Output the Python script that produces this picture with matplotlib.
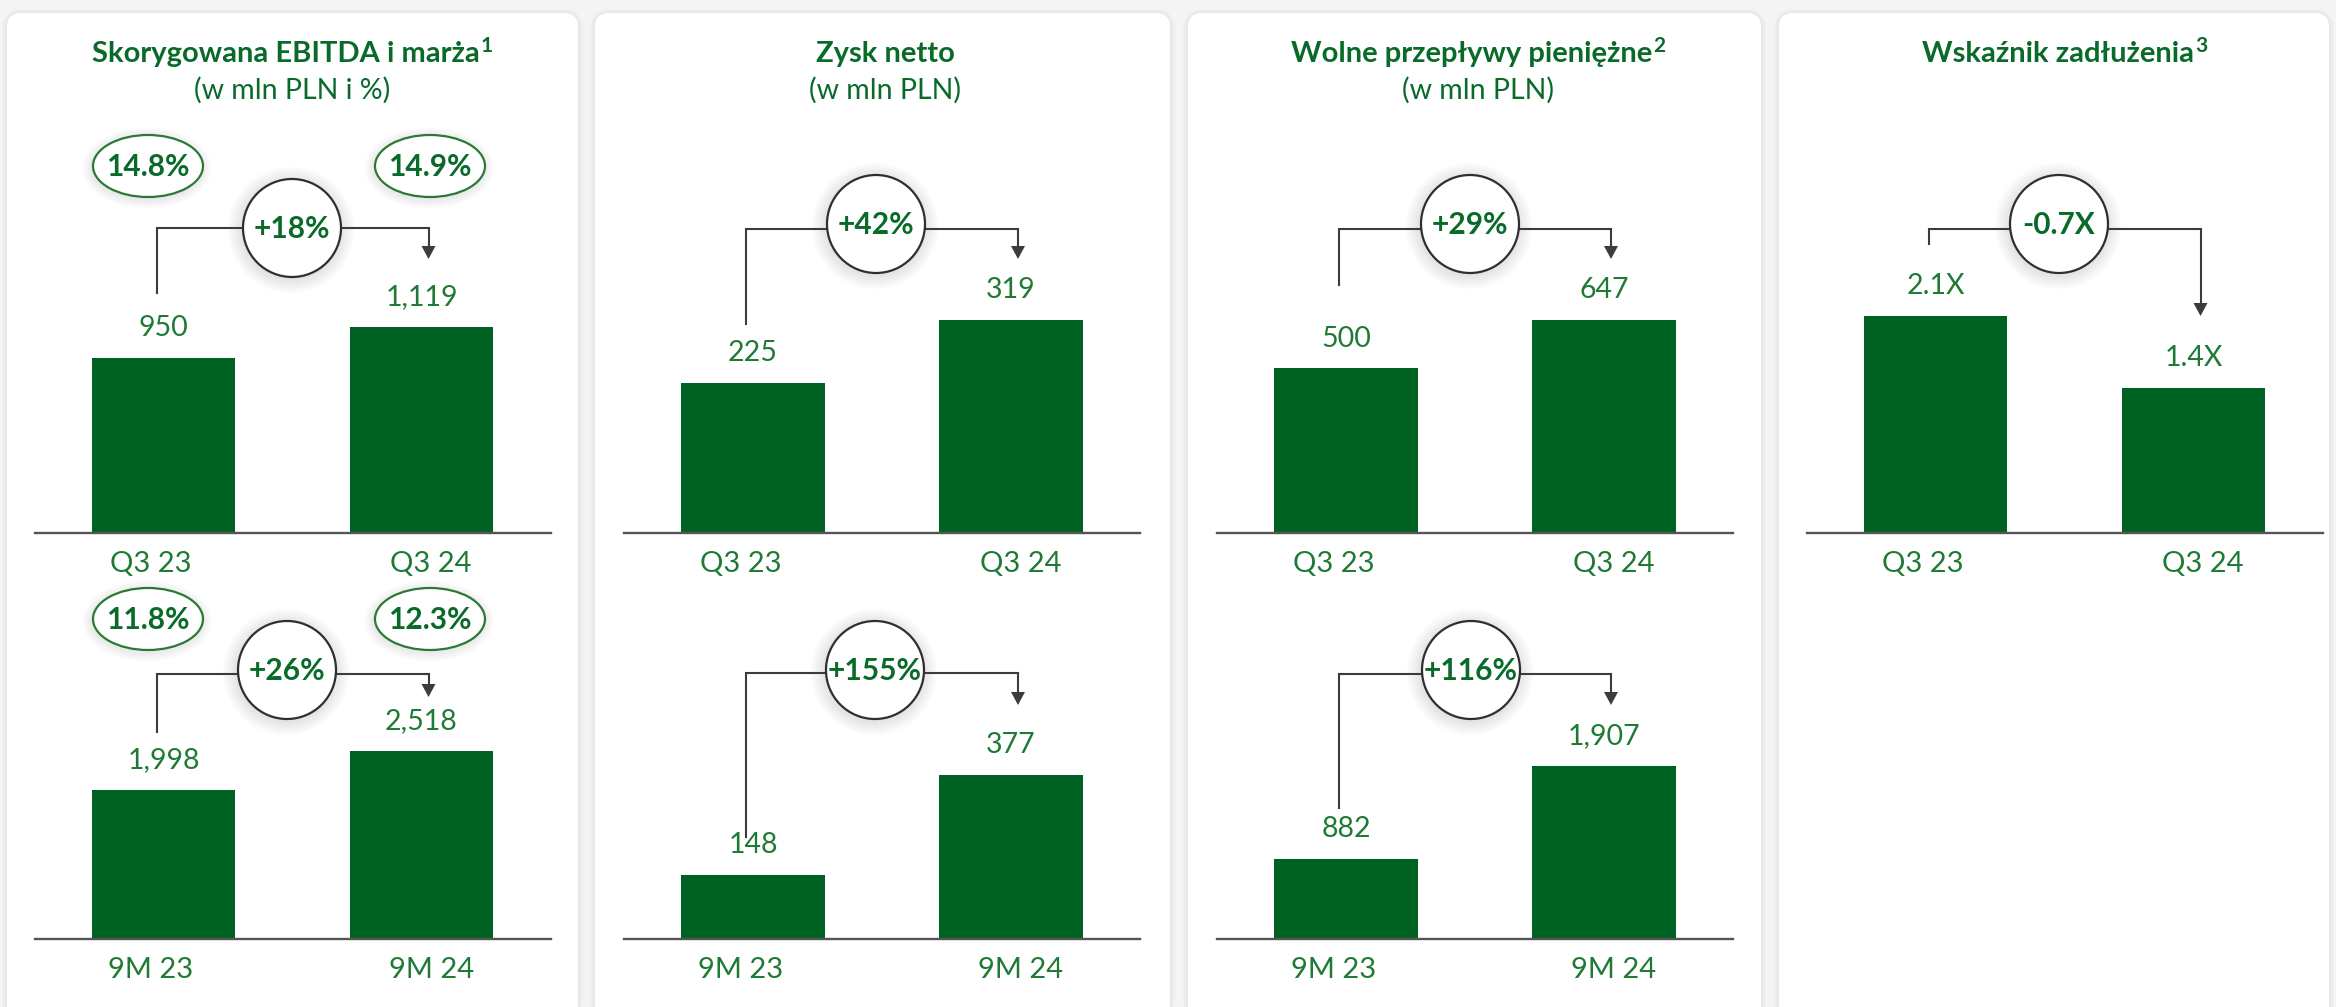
import matplotlib
matplotlib.use("Agg")
import matplotlib.pyplot as plt
from matplotlib.patches import FancyBboxPatch, Circle, Ellipse, Polygon

# ---------------------------------------------------------------- data
titles = ["Skorygowana EBITDA i marża", "Zysk netto",
          "Wolne przepływy pieniężne", "Wskaźnik zadłużenia"]
title_notes = ["1", "", "2", "3"]
subtitles = ["(w mln PLN i %)", "(w mln PLN)", "(w mln PLN)", ""]

quarter_labels = ["Q3 23", "Q3 24"]
ytd_labels = ["9M 23", "9M 24"]

ebitda_q3 = [950, 1119]
ebitda_9m = [1998, 2518]
margin_q3 = ["14.8%", "14.9%"]
margin_9m = ["11.8%", "12.3%"]

net_profit_q3 = [225, 319]
net_profit_9m = [148, 377]

free_cash_flow_q3 = [500, 647]
free_cash_flow_9m = [882, 1907]

leverage_q3 = [2.1, 1.4]

change_labels = {
    "ebitda_q3": "+18%", "ebitda_9m": "+26%",
    "net_q3": "+42%", "net_9m": "+155%",
    "fcf_q3": "+29%", "fcf_9m": "+116%",
    "lev_q3": "-0.7X",
}

# ---------------------------------------------------------------- style
W, H, DPI = 2336, 1007, 100
FONT = ["Lato", "DejaVu Sans"]
plt.rcParams["font.family"] = FONT

BG = "#f4f4f4"
BAR = "#006222"
TITLE_GREEN = "#0a6a2a"
TEXT_GREEN = "#1f7a35"
LINE_GRAY = "#3c3c3c"
BASE_GRAY = "#555555"

fig = plt.figure(figsize=(W / DPI, H / DPI), dpi=DPI, facecolor=BG)
renderer = fig.canvas.get_renderer()

# full-figure canvas in pixel units (y downwards) for cards and annotations
canvas = fig.add_axes([0, 0, 1, 1], zorder=0)
canvas.set_xlim(0, W)
canvas.set_ylim(H, 0)
canvas.axis("off")
canvas.set_facecolor(BG)

# cards with a soft shadow
cards = [(7, 578), (595, 1170), (1188, 1761), (1779, 2329)]
for x0, x1 in cards:
    for k in range(7, 0, -1):
        canvas.add_patch(FancyBboxPatch(
            (x0 - k * 0.8, 13 - k * 0.6), x1 - x0 + k * 1.6, 1010,
            boxstyle="round,pad=0,rounding_size=%d" % (14 + k),
            facecolor="#000000", alpha=0.007, edgecolor="none", zorder=1))
    canvas.add_patch(FancyBboxPatch(
        (x0, 13), x1 - x0, 1010, boxstyle="round,pad=0,rounding_size=14",
        facecolor="white", edgecolor="none", zorder=2))

# titles (with footnote markers) and units
title_x = [292, 885, 1478, 2064]
TITLE_PT, NOTE_PT = 21, 15
for tx, t, note, s in zip(title_x, titles, title_notes, subtitles):
    note_w = 0
    if note:
        probe = canvas.text(0, 0, note, fontsize=NOTE_PT, fontweight="bold")
        note_w = probe.get_window_extent(renderer).width
        probe.remove()
    main = canvas.text(tx - note_w / 2, 62, t, ha="center", va="baseline",
                       fontsize=TITLE_PT, fontweight="bold", color=TITLE_GREEN,
                       zorder=5)
    if note:
        bb = main.get_window_extent(renderer)
        right = canvas.transData.inverted().transform((bb.x1, 0))[0]
        canvas.text(right + 1, 52, note, ha="left", va="baseline",
                    fontsize=NOTE_PT, fontweight="bold", color=TITLE_GREEN,
                    zorder=5)
    if s:
        canvas.text(tx, 90, s, ha="center", va="center", fontsize=20.5,
                    color=TITLE_GREEN, zorder=5)

# ---------------------------------------------------------------- charts
AX_W, AX_H = 516, 233
BAR_W = 0.555

charts = [
    # left px, baseline px, values, categories, fmt, y-limit, change key,
    # bracket y, left leg end, arrow tip, circle centre, margin pills
    dict(left=34.5, base=533, vals=ebitda_q3, cats=quarter_labels, fmt="{:,.0f}",
         ytop=1266, key="ebitda_q3", by=228, leg=293, tip=259, cc=(292, 228),
         pills=margin_q3, pill_y=166),
    dict(left=34.5, base=939, vals=ebitda_9m, cats=ytd_labels, fmt="{:,.0f}",
         ytop=3119, key="ebitda_9m", by=674, leg=732, tip=697, cc=(287, 670),
         pills=margin_9m, pill_y=619),
    dict(left=624, base=533, vals=net_profit_q3, cats=quarter_labels, fmt="{:,.0f}",
         ytop=349, key="net_q3", by=229, leg=324, tip=259, cc=(876, 224)),
    dict(left=624, base=939, vals=net_profit_9m, cats=ytd_labels, fmt="{:,.0f}",
         ytop=536, key="net_9m", by=673, leg=837, tip=705, cc=(875, 670)),
    dict(left=1217, base=533, vals=free_cash_flow_q3, cats=quarter_labels, fmt="{:,.0f}",
         ytop=708, key="fcf_q3", by=229, leg=285, tip=259, cc=(1470, 224)),
    dict(left=1217, base=939, vals=free_cash_flow_9m, cats=ytd_labels, fmt="{:,.0f}",
         ytop=2569, key="fcf_9m", by=674, leg=808, tip=705, cc=(1471, 670)),
    dict(left=1806.5, base=533, vals=leverage_q3, cats=quarter_labels, fmt="{:.1f}X",
         ytop=2.255, key="lev_q3", by=229, leg=244, tip=316, cc=(2059, 224)),
]


def halo(cx, cy, rx, ry, steps=9, spread=1.6):
    for k in range(steps, 0, -1):
        canvas.add_patch(Ellipse((cx - 1, cy + 2), 2 * (rx + k * spread),
                                 2 * (ry + k * spread), facecolor="#000000",
                                 edgecolor="none", alpha=0.012, zorder=3))


for c in charts:
    ax = fig.add_axes([c["left"] / W, 1 - c["base"] / H, AX_W / W, AX_H / H],
                      zorder=2)
    ax.patch.set_alpha(0)
    xs = list(range(len(c["vals"])))
    bars = ax.bar(xs, c["vals"], width=BAR_W, color=BAR, zorder=2)
    ax.set_xlim(-0.5, 1.5)
    ax.set_ylim(0, c["ytop"])
    for sp in ("top", "left", "right"):
        ax.spines[sp].set_visible(False)
    ax.spines["bottom"].set_color(BASE_GRAY)
    ax.spines["bottom"].set_linewidth(1.7)
    ax.spines["bottom"].set_zorder(3)
    ax.set_yticks([])
    ax.set_xticks([])
    for i, (b, v) in enumerate(zip(bars, c["vals"])):
        ax.annotate(c["fmt"].format(v), (b.get_x() + b.get_width() / 2, v),
                    xytext=(0, 21.5), textcoords="offset points",
                    ha="center", va="center", fontsize=20.5, color=TEXT_GREEN,
                    annotation_clip=False)
        shift = -9 if i == 0 else 7
        ax.annotate(c["cats"][i], (i, 0), xytext=(shift, -22),
                    textcoords="offset points", ha="center", va="center",
                    fontsize=21, color=TEXT_GREEN, annotation_clip=False)

    # bar centres in canvas pixels
    to_px = lambda x: canvas.transData.inverted().transform(
        ax.transData.transform((x, 0)))[0]
    x_left = to_px(0) - 7
    x_right = to_px(1) + 7
    by = c["by"]

    # bracket from first to second period
    canvas.plot([x_left, x_left, x_right, x_right], [c["leg"], by, by, c["tip"] - 12],
                color=LINE_GRAY, lw=1.5, solid_joinstyle="miter", zorder=4)
    canvas.add_patch(Polygon([(x_right - 7, c["tip"] - 13), (x_right + 7, c["tip"] - 13),
                              (x_right, c["tip"])], closed=True,
                             facecolor=LINE_GRAY, edgecolor="none", zorder=4))

    cx, cy = c["cc"]
    halo(cx, cy, 49, 49)
    canvas.add_patch(Circle((cx, cy), 49, facecolor="white", edgecolor="#2f2f2f",
                            lw=1.6, zorder=5))
    canvas.text(cx, cy + 1, change_labels[c["key"]], ha="center", va="center",
                fontsize=21.5, fontweight="bold", color=TITLE_GREEN, zorder=6)

    if "pills" in c:
        for px, txt in zip((148, 430), c["pills"]):
            halo(px, c["pill_y"], 55, 31, steps=7, spread=1.4)
            canvas.add_patch(Ellipse((px, c["pill_y"]), 110, 62, facecolor="white",
                                     edgecolor="#2a7a36", lw=1.6, zorder=5))
            canvas.text(px, c["pill_y"] + 1, txt, ha="center", va="center",
                        fontsize=21.5, fontweight="bold", color=TITLE_GREEN, zorder=6)

fig.savefig("out.png", dpi=DPI, facecolor=BG)
